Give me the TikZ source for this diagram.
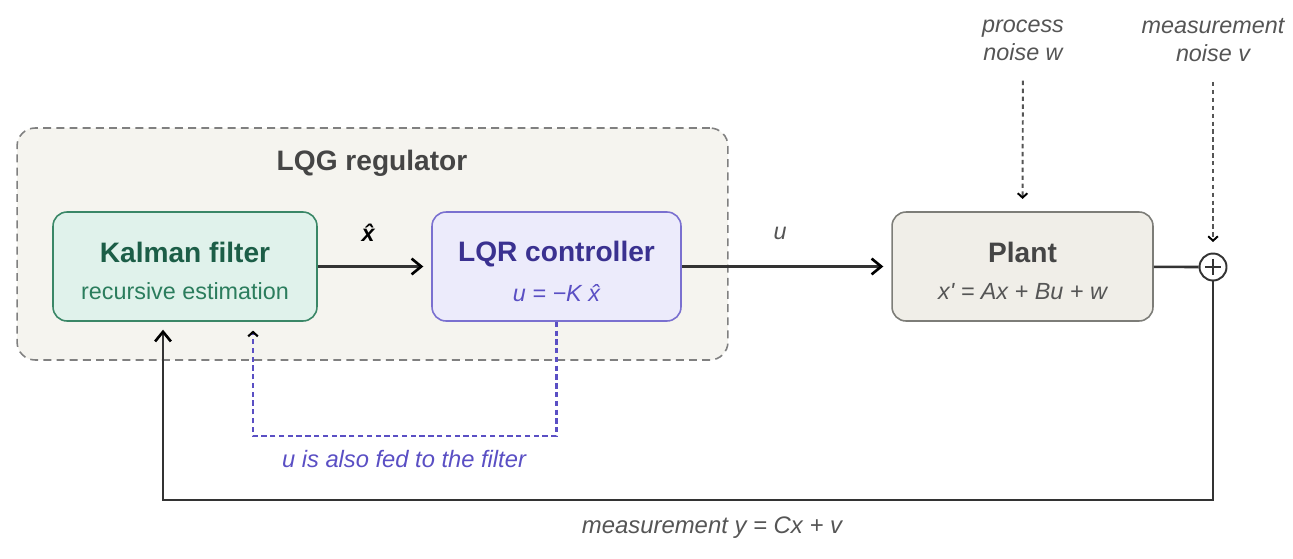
\documentclass[tikz,border=0pt]{standalone}
\usepackage{fontspec}
\setmainfont{Liberation Sans}
\usepackage{xcolor}
\usepackage{tikz}
\usetikzlibrary{arrows.meta,positioning,calc}

\definecolor{groupfill}{HTML}{F5F4EF}
\definecolor{groupdraw}{HTML}{808080}
\definecolor{kffill}{HTML}{E0F2EB}
\definecolor{kfdraw}{HTML}{3A8767}
\definecolor{kftext}{HTML}{1C5E47}
\definecolor{kfsub}{HTML}{2B7D5D}
\definecolor{lqrfill}{HTML}{ECEBFB}
\definecolor{lqrdraw}{HTML}{7A70D0}
\definecolor{lqrtext}{HTML}{3A3190}
\definecolor{lqrsub}{HTML}{5A4FC4}
\definecolor{plantfill}{HTML}{F0EEE8}
\definecolor{plantdraw}{HTML}{7D7D78}
\definecolor{planttext}{HTML}{454545}
\definecolor{labeltext}{HTML}{555555}
\definecolor{linecol}{HTML}{333333}

\begin{document}
\begin{tikzpicture}[
        x=0.02cm, y=-0.02cm,
        group/.style={
            draw=groupdraw,
            fill=groupfill,
            dash pattern=on 4.5pt off 3pt,
            line width=0.9pt,
            rounded corners=0.36cm,
            minimum width=14.22cm,
            minimum height=4.64cm
        },
        block/.style={
            rounded corners=0.28cm,
            line width=0.9pt,
            minimum height=2.18cm,
            align=center,
            inner sep=0pt
        },
        titlefont/.style={font=\fontsize{16}{19}\selectfont\bfseries},
        smallfont/.style={font=\fontsize{13.3}{16}\selectfont\itshape},
        summer/.style={
            circle,
            draw=linecol,
            fill=white,
            line width=1.1pt,
            minimum size=0.54cm,
            inner sep=0pt,
            path picture={
                \draw[line width=1.1pt, draw=linecol]
                    ([yshift=-3pt]path picture bounding box.north) -- ([yshift=3pt]path picture bounding box.south)
                    ([xshift=3pt]path picture bounding box.west) -- ([xshift=-3pt]path picture bounding box.east);
            }
        },
        flow/.style={
            draw=linecol,
            line width=1.5pt,
            shorten >=4.5pt,
            -{Straight Barb[length=5.5pt,width=9pt,color=black]}
        },
        noiseflow/.style={
            draw=labeltext,
            line width=1.1pt,
            dash pattern=on 2.5pt off 2pt,
            shorten <=8pt,
            -{Straight Barb[length=2.5pt,width=5.5pt,color=black]}
        },
        uflow/.style={
            draw=lqrsub,
            line width=1.2pt,
            dash pattern=on 3pt off 2pt,
            shorten >=5pt,
            -{Straight Barb[length=2.5pt,width=5.5pt,color=black]}
        }
    ]
        \useasboundingbox (0,0) rectangle (1293,558);

        % Regulator group
        \node[group] (lqg) at (372.5,244) {};
        \node[titlefont, text=planttext] (lqgtitle) at (372,163) {LQG regulator};

        % Blocks
        \node[block, draw=kfdraw, fill=kffill, minimum width=5.28cm] (kf) at (185,266.5)
            {\rule{0pt}{17pt}{\fontsize{16}{19}\selectfont\bfseries\color{kftext}Kalman filter}\\[9pt]
             {\fontsize{13.3}{16}\selectfont\color{kfsub}recursive estimation}};
        \node[block, draw=lqrdraw, fill=lqrfill, minimum width=4.98cm] (lqr) at (556.5,266.5)
            {\rule{0pt}{17pt}{\fontsize{16}{19}\selectfont\bfseries\color{lqrtext}LQR controller}\\[9pt]
             {\fontsize{13.3}{16}\selectfont\itshape\color{lqrsub}u = −K \^{x}}};
        \node[block, draw=plantdraw, fill=plantfill, minimum width=5.22cm] (plant) at (1022.5,266.5)
            {\rule{0pt}{17pt}{\fontsize{16}{19}\selectfont\bfseries\color{planttext}Plant}\\[9pt]
             {\fontsize{13.3}{16}\selectfont\itshape\color{labeltext}x\textquotesingle{} = Ax + Bu + w}};
        \node[summer] (sum) at (1213,267) {};

        % Noise inputs
        \node[smallfont, text=labeltext, align=center] (pnoise) at (1023,40) {process\\noise w};
        \node[smallfont, text=labeltext, align=center] (mnoise) at (1213,40) {measurement\\noise v};

        % Helper corners
        \coordinate (ucorner) at (253,436);
        \coordinate (fbcorner) at (163,500);

        % Signal flow
        \draw[flow] (kf) -- (lqr);
        \draw[flow] (lqr) -- (plant);
        \draw[draw=linecol, line width=1.5pt] (plant) -- (sum);
        \draw[flow] (sum.south) |- (fbcorner) -- (fbcorner |- kf.south);
        \draw[uflow] (lqr.south) |- (ucorner) -- (ucorner |- kf.south);
        \draw[noiseflow, shorten >=7pt] (pnoise) -- (plant.north);
        \draw[noiseflow, shorten >=6pt] (mnoise) -- (sum.north);

        % Edge labels
        \node[font=\fontsize{13.3}{16}\selectfont\bfseries\itshape, text=black] (xlbl) at (368,233) {\^{x}};
        \node[smallfont, text=labeltext] (ulbl) at (780,233) {u};
        \node[font=\fontsize{13.5}{16}\selectfont\itshape, text=lqrsub] (ufedlbl) at (404,459) {u is also fed to the filter};
        \node[font=\fontsize{13.6}{16}\selectfont\itshape, text=labeltext] (ylbl) at (712,528) {measurement y = Cx + v};
    \end{tikzpicture}
\end{document}
